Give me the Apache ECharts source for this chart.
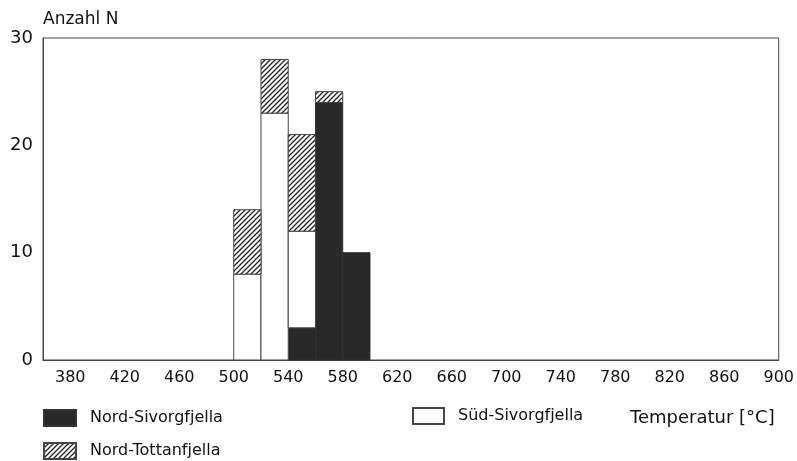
<!DOCTYPE html>
<html>
<head>
<meta charset="utf-8">
<script src="https://cdn.jsdelivr.net/npm/echarts@6/dist/echarts.min.js"></script>
<style>
html,body{margin:0;padding:0;background:#fff;}
#c{width:797px;height:461px;}
</style>
</head>
<body>
<div id="c"></div>
<script>
// ---- data ----
const binStarts = [500, 520, 540, 560, 580];
const binWidth = 20;
const nordSivorgfjella = [0, 0, 3, 24, 10];
const suedSivorgfjella = [8, 23, 9, 0, 0];
const nordTottanfjella = [6, 5, 9, 1, 0];
const seriesNames = ['Nord-Sivorgfjella', 'Süd-Sivorgfjella', 'Nord-Tottanfjella'];
const yTicks = [0, 10, 20, 30];
const xMin = 360, xMax = 900, xFirstLabel = 380, xLabelStep = 40;

// ---- hatch pattern ----
function makeHatch() {
  const s = 5;
  const cv = document.createElement('canvas');
  cv.width = s; cv.height = s;
  const ctx = cv.getContext('2d');
  ctx.fillStyle = '#fff';
  ctx.fillRect(0, 0, s, s);
  ctx.strokeStyle = '#222';
  ctx.lineWidth = 1.3;
  ctx.beginPath();
  ctx.moveTo(-1, s + 1); ctx.lineTo(s + 1, -1);
  ctx.moveTo(-1, 1); ctx.lineTo(1, -1);
  ctx.moveTo(s - 1, s + 1); ctx.lineTo(s + 1, s - 1);
  ctx.stroke();
  return cv;
}
const hatch = { image: makeHatch(), repeat: 'repeat' };

// stacked bases
const stackOrder = [nordSivorgfjella, suedSivorgfjella, nordTottanfjella];
function buildData(idx) {
  return binStarts.map((b, i) => {
    let base = 0;
    for (let k = 0; k < idx; k++) base += stackOrder[k][i];
    return [b, b + binWidth, base, base + stackOrder[idx][i]];
  }).filter(d => d[3] > d[2]);
}

function renderItem(params, api) {
  const p0 = api.coord([api.value(0), api.value(3)]);
  const p1 = api.coord([api.value(1), api.value(2)]);
  return {
    type: 'rect',
    shape: { x: p0[0], y: p0[1], width: p1[0] - p0[0], height: p1[1] - p0[1] },
    style: api.style()
  };
}

const styles = [
  { color: '#292929', borderColor: '#333', borderWidth: 1 },
  { color: '#ffffff', borderColor: '#444', borderWidth: 1 },
  { color: hatch, borderColor: '#444', borderWidth: 1 }
];

const font = 'DejaVu Sans';
const legendText = { color: '#111', fontFamily: font, fontSize: 16, padding: [0, 0, 0, 9] };
const chart = echarts.init(document.getElementById('c'));
chart.setOption({
  animation: false,
  backgroundColor: '#fff',
  grid: { left: 43, top: 38, right: 17, bottom: 101, show: true, borderColor: '#444', borderWidth: 1, backgroundColor: 'transparent' },
  xAxis: {
    type: 'value', min: xMin, max: xMax, interval: 20,
    axisLine: { show: true, lineStyle: { color: '#444', width: 1 } },
    axisTick: { show: false },
    splitLine: { show: false },
    axisLabel: {
      margin: 10, color: '#111', fontFamily: font, fontSize: 16,
      formatter: v => ((v - xFirstLabel) % xLabelStep === 0 && v >= xFirstLabel) ? String(v) : ''
    }
  },
  yAxis: {
    type: 'value', min: yTicks[0], max: yTicks[yTicks.length - 1], interval: 10,
    name: 'Anzahl N', nameLocation: 'end', nameGap: 10,
    nameTextStyle: { align: 'left', color: '#111', fontFamily: font, fontSize: 17 },
    axisLine: { show: true, lineStyle: { color: '#444', width: 1 } },
    axisTick: { show: false },
    splitLine: { show: false },
    axisLabel: { margin: 10, color: '#111', fontFamily: font, fontSize: 18 }
  },
  title: {
    text: 'Temperatur [°C]', left: 630, top: 409, padding: 0,
    textStyle: { color: '#111', fontFamily: font, fontSize: 18, fontWeight: 'normal' }
  },
  legend: [
    { data: [seriesNames[0]], left: 43, top: 409, padding: 0, itemWidth: 32, itemHeight: 16, icon: 'rect', textStyle: legendText },
    { data: [seriesNames[2]], left: 43, top: 442, padding: 0, itemWidth: 32, itemHeight: 16, icon: 'rect', textStyle: legendText },
    { data: [seriesNames[1]], left: 412, top: 407, padding: 0, itemWidth: 31, itemHeight: 16, icon: 'rect', textStyle: legendText }
  ],
  series: [0, 1, 2].map(i => ({
    type: 'custom',
    name: seriesNames[i],
    renderItem: renderItem,
    itemStyle: styles[i],
    encode: { x: [0, 1], y: [2, 3] },
    data: buildData(i)
  }))
});
</script>
</body>
</html>
